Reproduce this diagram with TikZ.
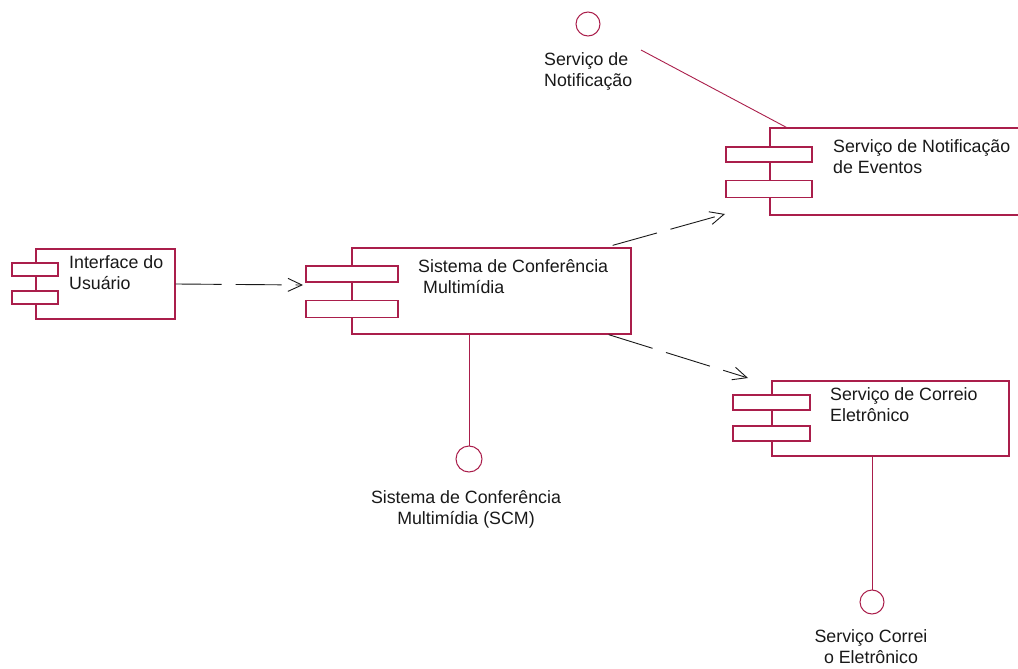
\documentclass[tikz,border=0pt]{standalone}
\usepackage{fontspec}
\setmainfont{Liberation Sans}
\usetikzlibrary{arrows.meta,positioning,calc}
\definecolor{umlred}{RGB}{170,30,75}
\definecolor{ink}{RGB}{25,25,25}
\tikzset{
  >={Straight Barb[length=14pt,width=13pt]},
  comp/.style={draw=umlred,line width=1.3pt,fill=white,inner sep=0pt},
  port/.style={draw=umlred,line width=1.3pt,fill=white,inner sep=0pt,
    minimum width=#1},
  iface/.style={circle,draw=umlred,line width=1pt,fill=white,inner sep=0pt,
    minimum size=#1},
  iface/.default=24pt,
  wire/.style={draw=umlred,line width=0.9pt},
  dep/.style={->,draw=ink,line width=0.9pt,dash pattern=on 46pt off 14pt},
  lbl/.style={font=\fontsize{17.8}{21.5}\selectfont,text=ink,inner sep=0pt,
    align=left,anchor=north west},
  clbl/.style={lbl,align=center,anchor=north},
}

\begin{document}
\begin{tikzpicture}[x=1pt,y=-1pt]
  \useasboundingbox (0,0) rectangle (1018,669);
  % components
  \node[comp,minimum width=139pt,minimum height=70pt] (ui) at (105.5,284) {};
  \node[port=46pt,minimum height=13pt] (uip1) at (35,269.5) {};
  \node[port=46pt,minimum height=13pt] (uip2) at (35,297.5) {};
  \node[lbl] (uit) at (69,255) {Interface do\\Usuário};

  \node[comp,minimum width=279pt,minimum height=86pt] (scm) at (491.5,291) {};
  \node[port=92pt,minimum height=16pt] (scmp1) at (352,274) {};
  \node[port=92pt,minimum height=17pt] (scmp2) at (352,309) {};
  \node[lbl] (scmt) at (418,259) {Sistema de Conferência\\\hspace*{5pt}Multimídia};

  \node[comp,minimum width=260pt,minimum height=87pt] (sne) at (900,171.5) {};
  \node[port=86pt,minimum height=15pt] (snep1) at (769,154.5) {};
  \node[port=86pt,minimum height=17pt] (snep2) at (769,189) {};
  \node[lbl] (snet) at (833,139) {Serviço de Notificação\\de Eventos};

  \node[comp,minimum width=237pt,minimum height=75pt] (sce) at (890.5,418.5) {};
  \node[port=77pt,minimum height=15pt] (scep1) at (771.5,402.5) {};
  \node[port=77pt,minimum height=15pt] (scep2) at (771.5,433.5) {};
  \node[lbl] (scet) at (830,387) {Serviço de Correio\\Eletrônico};

  % interfaces
  \node[iface] (ifn) at (588,24) {};
  \node[lbl] (ifnt) at (544,52) {Serviço de\\Notificação};
  \coordinate (ifnw) at (641,50);
  \draw[wire] (ifnw) -- ($(sne.north west)+(17,0)$);

  \node[iface=26pt] (ifscm) at (469,459) {};
  \node[clbl] (ifscmt) at (466,490) {Sistema de Conferência\\Multimídia (SCM)};
  \draw[wire] (ifscm.north) -- (ifscm.north |- scm.south);

  \node[iface] (ifce) at (872,602) {};
  \node[clbl] (ifcet) at (871,629) {Serviço Correi\\o Eletrônico};
  \draw[wire] (ifce.north) -- (ifce.north |- sce.south);

  % dependencies
  \coordinate (t1) at (303,285);
  \coordinate (t2) at (725,214);
  \coordinate (t3) at (748,378);
  \draw[dep] (ui.east) -- (t1);
  \draw[dep] ($(scm.north east)+(-19,-2)$) -- (t2);
  \draw[dep] ($(scm.south east)+(-23,0)$) -- (t3);
\end{tikzpicture}
\end{document}
